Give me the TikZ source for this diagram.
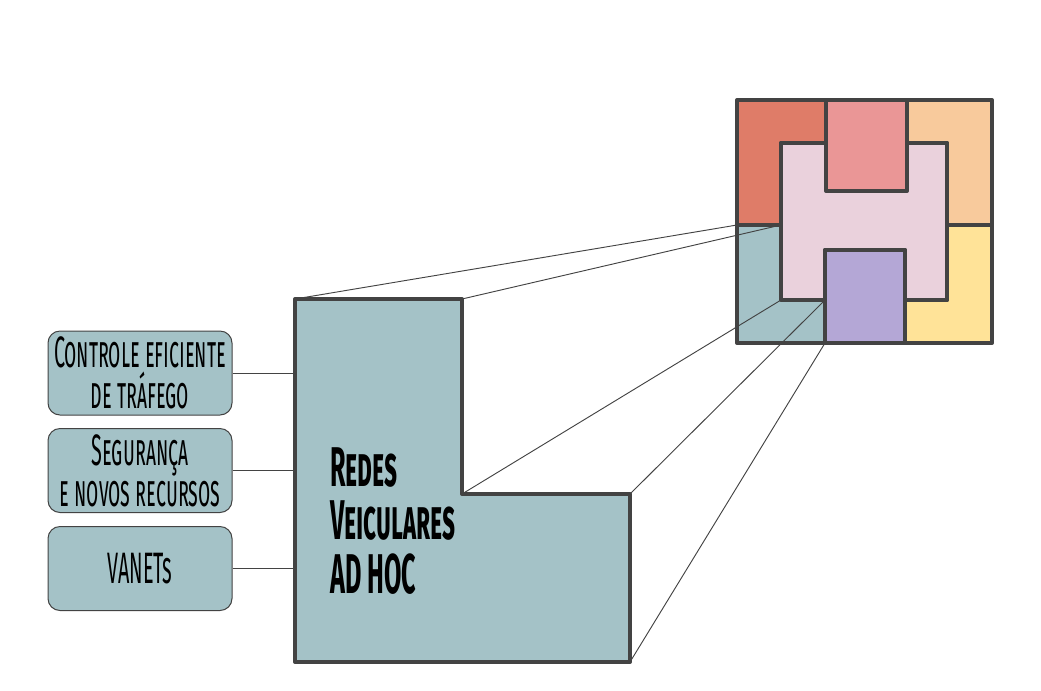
\documentclass[tikz,border=0pt]{standalone}
\usepackage{fontspec}
\newfontfamily\amatic[FakeStretch=0.45]{Fira Sans}
\definecolor{outline}{HTML}{434343}
\definecolor{tealfill}{HTML}{A4C2C7}
\definecolor{redfill}{HTML}{DF7C68}
\definecolor{rosefill}{HTML}{EA9696}
\definecolor{orangefill}{HTML}{F8CA9C}
\definecolor{pinkfill}{HTML}{EAD1DC}
\definecolor{yellowfill}{HTML}{FFE398}
\definecolor{purplefill}{HTML}{B4A7D6}
\tikzset{sqpart/.style={draw=outline,line width=3pt,line join=round}}
\tikzset{projline/.style={draw=outline,line width=0.7pt}}
\tikzset{topicbox/.style={draw=outline,fill=tealfill,line width=0.75pt,rounded corners=9pt,minimum width=138pt,minimum height=63pt,inner sep=0pt,align=center,font=\amatic\scshape\fontsize{33}{30.75}\selectfont}}
\tikzset{titlenode/.style={anchor=west,inner sep=0pt,align=left,font=\amatic\bfseries\scshape\fontsize{42}{40}\selectfont}}

\begin{document}
\begin{tikzpicture}[x=0.75pt,y=-0.75pt]
	\useasboundingbox (0,0) rectangle (1041,690);

	% corners of the L and of its place in the square
	\coordinate (la) at (295,299);
	\coordinate (lb) at (462,299);
	\coordinate (lc) at (462,494);
	\coordinate (ld) at (630,494);
	\coordinate (le) at (630,662);
	\coordinate (lf) at (295,662);
	\coordinate (ta) at (737,225);
	\coordinate (tb) at (781,225);
	\coordinate (tc) at (781,300);
	\coordinate (td) at (825,300);
	\coordinate (te) at (825,343);
	\coordinate (tf) at (737,343);

	% the square
	\draw[sqpart,fill=redfill] (737,100) -- (826,100) -- (826,143) -- (781,143) -- (tb) -- (ta) -- cycle;
	\draw[sqpart,fill=rosefill] (826,100) -- (907,100) -- (907,191) -- (826,191) -- cycle;
	\draw[sqpart,fill=orangefill] (907,100) -- (992,100) -- (992,225) -- (947,225) -- (947,143) -- (907,143) -- cycle;
	\draw[sqpart,fill=yellowfill] (947,225) -- (992,225) -- (992,343) -- (905,343) -- (905,300) -- (947,300) -- cycle;
	\draw[sqpart,fill=pinkfill] (781,143) -- (826,143) -- (826,191) -- (907,191) -- (907,143) -- (947,143) -- (947,300) -- (905,300) -- (905,250) -- (825,250) -- (td) -- (tc) -- cycle;
	\draw[sqpart,fill=purplefill] (825,250) -- (905,250) -- (905,343) -- (te) -- cycle;
	\fill[tealfill] (ta) -- (tb) -- (tc) -- (td) -- (te) -- (tf) -- cycle;

	\draw[projline] (la) -- (ta) (lb) -- (tb) (lc) -- (tc) (ld) -- (td) (le) -- (te);

	\draw[sqpart] (ta) -- (tb) -- (tc) -- (td) -- (te) -- (tf) -- cycle;

	% the L
	\draw[sqpart,fill=tealfill] (la) -- (lb) -- (lc) -- (ld) -- (le) -- (lf) -- cycle;
	\node[titlenode] (title) at (330,521) {Redes\\Veiculares\\AD HOC};

	% topics
	\node[topicbox] (trafego) at (140,373) {Controle eficiente\\de tráfego};
	\node[topicbox] (seguranca) at (140,470.5) {Segurança\\e novos recursos};
	\node[topicbox] (vanets) at (140,568.5) {VANETs};

	\draw[projline] (trafego.east) -- (trafego.east -| la);
	\draw[projline] (seguranca.east) -- (seguranca.east -| la);
	\draw[projline] (vanets.east) -- (vanets.east -| la);
\end{tikzpicture}
\end{document}
